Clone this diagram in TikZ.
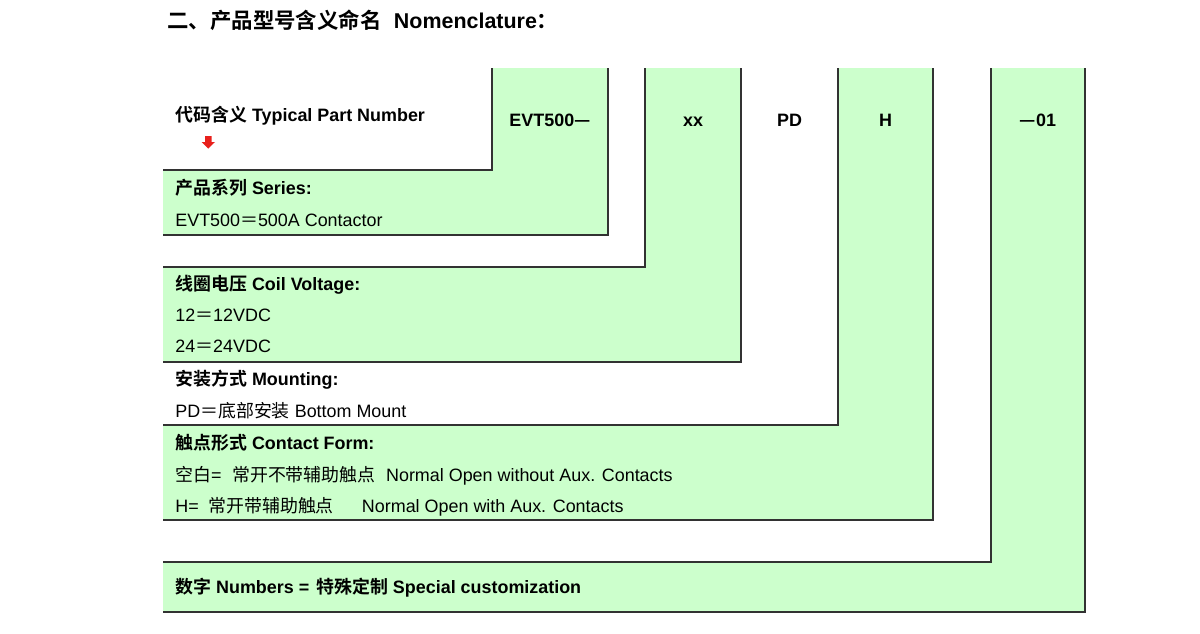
\documentclass[tikz,border=0pt]{standalone}
\usepackage{fontspec}
\setmainfont{Liberation Sans}
\newfontfamily\cjk{Noto Sans CJK SC}[BoldFont={Noto Sans CJK SC Bold}]
\usepackage{xcolor}
\usepackage{tikz}
\usetikzlibrary{positioning}
\definecolor{codegreen}{RGB}{204,255,204}
\definecolor{arrowred}{RGB}{232,32,28}
\definecolor{rimgray}{RGB}{50,50,50}
\tikzstyle{rowtext} = [anchor=base west, inner sep=0pt, font=\fontsize{10.2}{12}\selectfont]
\tikzstyle{rowhead} = [rowtext, font=\fontsize{10.2}{12}\selectfont\bfseries]
\tikzstyle{codetext} = [anchor=base, inner sep=0pt, font=\fontsize{10.2}{12}\selectfont\bfseries]
\tikzstyle{rim} = [draw=rimgray, line width=0.8pt]

\begin{document}
\begin{tikzpicture}[x=0.02cm, y=-0.02cm]
    \useasboundingbox (0,0) rectangle (1200,633);

    % Title
    \node [rowhead, font=\fontsize{12.2}{14}\selectfont\bfseries] (title) at (167,28)
        {{\cjk 二、产品型号含义命名}\hspace{7pt}Nomenclature{\cjk ：}};

    % Columns with their rows (green L shapes)
    \foreach \xl/\xr/\yt/\yb in {492/608/170/235, 645/741/267/362,
                                 838/933/425/520, 991/1085/562/612} {
        \fill [codegreen] (163,\yt) -| (\xl,68) -| (\xr,\yb) -- (163,\yb) -- cycle;
        \draw [rim] (163,\yt) -| (\xl,68);
        \draw [rim] (\xr,68) |- (163,\yb);
    }

    % Code parts
    \node [codetext] (evt) at (550,126) {EVT500{\cjk —}};
    \node [codetext] (xx) at (693,126) {xx};
    \node [codetext] (pd) at (789.5,126) {PD};
    \node [codetext] (h) at (885.5,126) {H};
    \node [codetext] (num) at (1038,126) {{\cjk —}01};

    % Typical part number
    \node [rowhead] (typical) at (175,121) {{\cjk 代码含义} Typical Part Number};
    \fill [arrowred] (205,136) -- (211.5,136) -- (211.5,142) -- (215,142)
        -- (208.25,148.5) -- (201.5,142) -- (205,142) -- cycle;

    % Series
    \node [rowhead] (series) at (175,194) {{\cjk 产品系列} Series:};
    \node [rowtext, below=0.64cm of series.base west, anchor=base west] (seriesval)
        {EVT500{\cjk ＝}500A Contactor};

    % Coil voltage
    \node [rowhead] (coil) at (175,290) {{\cjk 线圈电压} Coil Voltage:};
    \node [rowtext, below=0.63cm of coil.base west, anchor=base west] (coil12)
        {12{\cjk ＝}12VDC};
    \node [rowtext, below=0.63cm of coil12.base west, anchor=base west] (coil24)
        {24{\cjk ＝}24VDC};

    % Mounting
    \node [rowhead] (mount) at (175,385) {{\cjk 安装方式} Mounting:};
    \node [rowtext, below=0.64cm of mount.base west, anchor=base west] (mountpd)
        {PD{\cjk ＝底部安装} Bottom Mount};

    % Contact form
    \node [rowhead] (contact) at (175,449) {{\cjk 触点形式} Contact Form:};
    \node [rowtext, below=0.64cm of contact.base west, anchor=base west] (contactno)
        {{\cjk 空白}=\hspace{6pt}{\cjk 常开不带辅助触点}\hspace{6pt}Normal Open without Aux. Contacts};
    \node [rowtext, below=0.63cm of contactno.base west, anchor=base west] (contacth)
        {H=\hspace{5.5pt}{\cjk 常开带辅助触点}\hspace{16pt}Normal Open with Aux. Contacts};

    % Special numbers
    \node [rowhead] (numbers) at (175,593)
        {{\cjk 数字} Numbers =\hspace{4pt}{\cjk 特殊定制} Special customization};
\end{tikzpicture}
\end{document}
